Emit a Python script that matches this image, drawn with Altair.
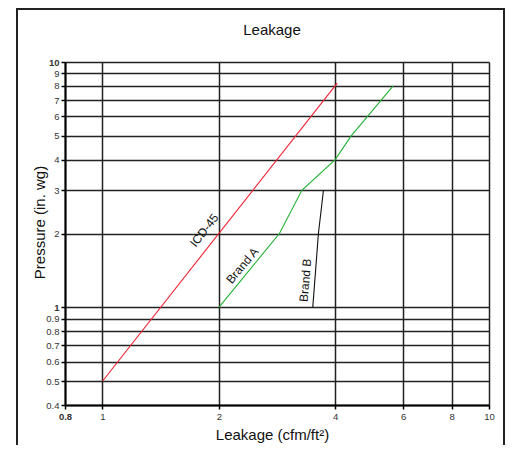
import altair as alt
import pandas as pd

# Series data (log-log axes)
icd_x = [1.0, 4.05]
icd_y = [0.5, 8.2]

brand_a_x = [2.0, 2.87, 3.28, 4.0, 4.4, 5.65]
brand_a_y = [1.0, 2.0, 3.0, 4.0, 5.0, 8.0]

brand_b_x = [3.5, 3.62, 3.73]
brand_b_y = [1.0, 2.0, 3.0]

series_names = ["ICD-45", "Brand A", "Brand B"]
series_colors = ["#ee2233", "#22b033", "#111111"]

# In-chart labels
label_text = ["ICD-45", "Brand A", "Brand B"]
label_x = [1.835, 2.30, 3.35]
label_y = [2.06, 1.48, 1.29]
label_angle = [308, 310, 275]

chart_title = "Leakage"

x_ticks = [0.8, 1, 2, 4, 6, 8, 10]
y_ticks = [0.4, 0.5, 0.6, 0.7, 0.8, 0.9, 1, 2, 3, 4, 5, 6, 7, 8, 9, 10]

rows = []
for name, xs, ys in [("ICD-45", icd_x, icd_y), ("Brand A", brand_a_x, brand_a_y), ("Brand B", brand_b_x, brand_b_y)]:
    for i, (a, b) in enumerate(zip(xs, ys)):
        rows.append({"series": name, "x": a, "y": b, "order": i})
df = pd.DataFrame(rows)
labels_df = pd.DataFrame({"text": label_text, "x": label_x, "y": label_y, "angle": label_angle})

FONT = "Liberation Sans"

xscale = alt.Scale(type="log", domain=[0.8, 10], nice=False)
yscale = alt.Scale(type="log", domain=[0.4, 10], nice=False)

xaxis = alt.Axis(
    values=x_ticks, format="~g", title="Leakage (cfm/ft²)", grid=True,
    gridColor="#222", gridWidth=1.5, gridOpacity=1,
    domainColor="#000", domainWidth=2, tickColor="#000", tickSize=4, tickWidth=1.5,
    labelFont=FONT, labelFontSize=9.5, labelColor="#333", labelFlush=False, labelOverlap=False,
    labelPadding=2,
    labelFontWeight={"condition": {"test": "datum.value == 0.8", "value": "bold"}, "value": "normal"},
    titleFont=FONT, titleFontSize=15, titleFontWeight="normal", titleColor="#111",
    titleX=207, titleY=29, titleBaseline="middle", titleAlign="center",
)
yaxis = alt.Axis(
    values=y_ticks, format="~g", title="Pressure (in. wg)", grid=True,
    gridColor="#222", gridWidth=1.5, gridOpacity=1,
    domainColor="#000", domainWidth=2, tickColor="#000", tickSize=4, tickWidth=1.5,
    labelFont=FONT, labelFontSize=9.5, labelColor="#333", labelFlush=False, labelOverlap=False,
    labelPadding=2,
    labelFontWeight={"condition": {"test": "datum.value == 10 || datum.value == 1", "value": "bold"}, "value": "normal"},
    titleFont=FONT, titleFontSize=15, titleFontWeight="normal", titleColor="#111",
    titleX=-26, titleY=160, titleAngle=270, titleBaseline="middle", titleAlign="center",
)

one = pd.DataFrame({"t": [chart_title]})

frame = alt.Chart(one).mark_rect(
    fill="transparent", stroke="#222", strokeWidth=2
).encode(
    x=alt.value(-48), x2=alt.value(439), y=alt.value(-53), y2=alt.value(420)
)

title_mark = alt.Chart(one).mark_text(
    font=FONT, fontSize=15, color="#111", align="center", baseline="middle"
).encode(
    x=alt.value(207), y=alt.value(-32), text="t:N"
)

lines = alt.Chart(df).mark_line(strokeWidth=1.1, clip=True).encode(
    x=alt.X("x:Q", scale=xscale, axis=xaxis),
    y=alt.Y("y:Q", scale=yscale, axis=yaxis),
    color=alt.Color("series:N", scale=alt.Scale(domain=series_names, range=series_colors), legend=None),
    detail="series:N",
    order="order:Q",
)

texts = alt.Chart(labels_df).mark_text(
    font=FONT, fontSize=12, color="#111", align="center", baseline="middle"
).encode(
    x=alt.X("x:Q", scale=xscale),
    y=alt.Y("y:Q", scale=yscale),
    text="text:N",
    angle=alt.Angle("angle:Q", scale=None),
)

chart = alt.layer(lines, texts, frame, title_mark).properties(
    width=424, height=343,
    autosize=alt.AutoSizeParams(type="none"),
    padding={"left": 57, "top": 54, "right": 16, "bottom": 40},
).configure_view(stroke=None)

chart.save("out.html", embed_options={"renderer": "svg", "actions": False})
